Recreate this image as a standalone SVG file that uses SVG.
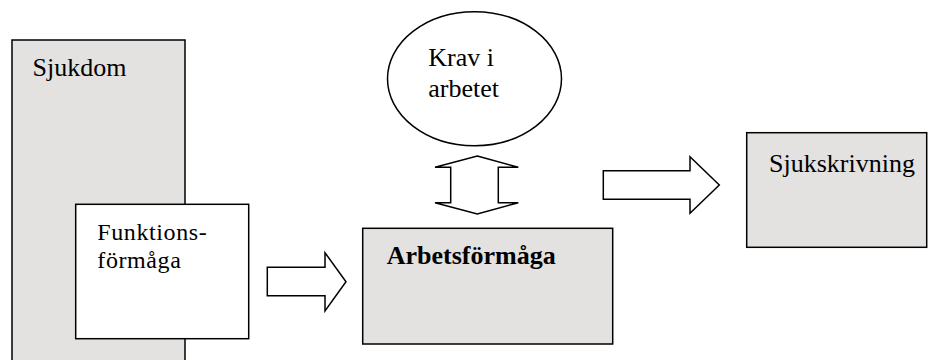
<svg xmlns="http://www.w3.org/2000/svg" width="928" height="360" viewBox="0 0 928 360">
<style>
.box{fill:#e3e2e0;stroke:#000;stroke-width:1.5}
.white{fill:#fff;stroke:#000;stroke-width:1.5}
.arrow{fill:#fff;stroke:#000;stroke-width:1.5;stroke-linejoin:miter}
text{font-family:"Liberation Serif","Times New Roman",serif;font-size:26px;fill:#000}
.b{font-weight:bold}
.f{font-size:24px;letter-spacing:0.6px}
</style>
<rect width="928" height="360" fill="#fff"/>
<g id="sjukdom">
<rect class="box" x="12" y="40" width="173" height="330"/>
<text x="32.5" y="76">Sjukdom</text>
</g>
<g id="funktionsformaga">
<rect class="white" x="75.7" y="204.3" width="173" height="134.4"/>
<text class="f" x="97.3" y="240.3">Funktions-</text>
<text class="f" x="97.3" y="267.5">förmåga</text>
</g>
<g id="krav">
<ellipse class="white" cx="474.5" cy="78.7" rx="87" ry="67"/>
<text x="428.3" y="65.5">Krav i</text>
<text x="428.3" y="96.7">arbetet</text>
</g>
<g id="arbetsformaga">
<rect class="box" x="362.7" y="228.3" width="250" height="115.7"/>
<text class="b" x="386.7" y="264.3">Arbetsförmåga</text>
</g>
<g id="sjukskrivning">
<rect class="box" x="746.7" y="132.7" width="180" height="114.6"/>
<text x="769" y="171.7">Sjukskrivning</text>
</g>
<g id="connectors">
<polygon class="arrow" points="267.3,267.3 325,267.3 325,252.7 346,281.7 325,311 325,295.7 267.3,295.7"/>
<polygon class="arrow" points="603.3,170.7 690,170.7 690,156.7 719.3,185 690,213.3 690,199.3 603.3,199.3"/>
<polygon class="arrow" points="477.3,156 518.3,167.3 498.3,167.3 498.3,202.7 518.3,202.7 477.3,214 435,202.7 450.7,202.7 450.7,167.3 435,167.3"/>
</g>
</svg>
